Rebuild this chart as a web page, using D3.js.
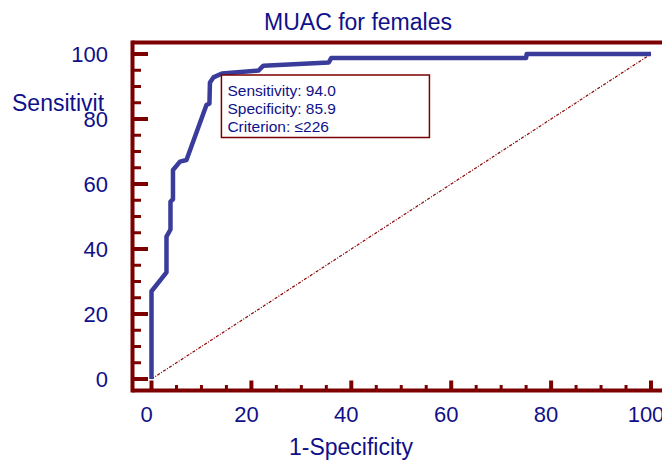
<!DOCTYPE html>
<html>
<head>
<meta charset="utf-8">
<script src="https://cdn.jsdelivr.net/npm/d3@7"></script>
<style>
  body { margin: 0; background: #fff; }
  svg { display: block; font-family: "Liberation Sans", Arial, sans-serif; }
</style>
</head>
<body>
<svg id="chart" width="662" height="464"></svg>
<script>
// ROC curve: 1-Specificity (%) and Sensitivity (%)
const oneMinusSpec = [0, 0, 3.0, 3.0, 3.8, 3.8, 4.3, 4.3, 5.7, 7.0, 11.0, 11.6, 11.7, 12.4, 14.1, 21.4, 22.4, 35.5, 36.0, 75.0, 75.1, 100];
const sensitivity  = [0, 27.0, 32.8, 43.8, 46.0, 54.6, 55.3, 64.3, 66.9, 67.4, 84.3, 84.8, 91.2, 92.8, 94.0, 94.9, 96.4, 97.4, 98.8, 98.8, 100, 100];

const xTicks = [0, 20, 40, 60, 80, 100];
const yTicks = [0, 20, 40, 60, 80, 100];

const infoLines = ["Sensitivity: 94.0", "Specificity: 85.9", "Criterion: \u2264226"];
const criterion = { fpr: 14.1, sens: 94.0 };

const title = "MUAC for females";
const xTitle = "1-Specificity";
const yTitle = "Sensitivit";

const axisColor = "#7d0000";
const textColor = "#10108a";
const curveColor = "#3a3c9c";

const svg = d3.select("#chart");

const x = d3.scaleLinear().domain([0, 100]).range([151.5, 651]);
const y = d3.scaleLinear().domain([0, 100]).range([379, 54]);

// frame: left axis, top border, bottom axis
const frameLeft = 132.5, frameTop = 42.5, frameBottom = 390.5;
svg.append("line")
  .attr("x1", frameLeft).attr("x2", frameLeft)
  .attr("y1", frameTop - 2).attr("y2", frameBottom + 2)
  .attr("stroke", axisColor).attr("stroke-width", 4);
svg.append("line")
  .attr("x1", frameLeft).attr("x2", 662)
  .attr("y1", frameTop).attr("y2", frameTop)
  .attr("stroke", axisColor).attr("stroke-width", 4);
svg.append("line")
  .attr("x1", frameLeft).attr("x2", 662)
  .attr("y1", frameBottom).attr("y2", frameBottom)
  .attr("stroke", axisColor).attr("stroke-width", 4);

// y ticks (minor every 5, major every 20), pointing inward
const yAll = d3.range(0, 101, 5);
svg.append("g").selectAll("line")
  .data(yAll)
  .enter()
  .append("line")
  .attr("x1", frameLeft)
  .attr("x2", d => d % 20 === 0 ? 148 : 141)
  .attr("y1", d => y(d)).attr("y2", d => y(d))
  .attr("stroke", axisColor)
  .attr("stroke-width", d => d % 20 === 0 ? 4 : 3);

// x ticks
const xAll = d3.range(0, 101, 5);
svg.append("g").selectAll("line")
  .data(xAll)
  .enter()
  .append("line")
  .attr("x1", d => x(d)).attr("x2", d => x(d))
  .attr("y1", frameBottom)
  .attr("y2", d => d % 20 === 0 ? 380.5 : 385)
  .attr("stroke", axisColor)
  .attr("stroke-width", d => d % 20 === 0 ? 4 : 3);

// tick labels
svg.append("g").selectAll("text")
  .data(yTicks)
  .enter()
  .append("text")
  .attr("x", 108)
  .attr("y", d => y(d))
  .attr("dy", "0.36em")
  .attr("text-anchor", "end")
  .attr("font-size", 22)
  .attr("fill", textColor)
  .text(d => d);

svg.append("g").selectAll("text")
  .data(xTicks)
  .enter()
  .append("text")
  .attr("x", d => x(d) - 5)
  .attr("y", 422)
  .attr("text-anchor", "middle")
  .attr("font-size", 22)
  .attr("fill", textColor)
  .text(d => d);

// titles
svg.append("text")
  .attr("x", 358).attr("y", 30)
  .attr("text-anchor", "middle")
  .attr("font-size", 23)
  .attr("fill", textColor)
  .text(title);

svg.append("text")
  .attr("x", 351).attr("y", 455)
  .attr("text-anchor", "middle")
  .attr("font-size", 23)
  .attr("fill", textColor)
  .text(xTitle);

svg.append("text")
  .attr("x", 12).attr("y", 111)
  .attr("font-size", 23)
  .attr("fill", textColor)
  .text(yTitle);

// reference diagonal
svg.append("line")
  .attr("x1", x(0)).attr("y1", y(0))
  .attr("x2", x(100)).attr("y2", y(100))
  .attr("stroke", "#8b0000")
  .attr("stroke-width", 1.2)
  .attr("stroke-dasharray", "3,1.5,1,1.5");

// ROC curve
const pts = oneMinusSpec.map((v, i) => [v, sensitivity[i]]);
const line = d3.line().x(d => x(d[0])).y(d => y(d[1]));
svg.append("path")
  .datum(pts)
  .attr("d", line)
  .attr("fill", "none")
  .attr("stroke", curveColor)
  .attr("stroke-width", 4.5)
  .attr("stroke-linejoin", "round");

// info box at the criterion point
const bx = x(criterion.fpr) - 0.5, by = y(criterion.sens) + 1.5;
svg.append("rect")
  .attr("x", bx).attr("y", by)
  .attr("width", 208).attr("height", 62.5)
  .attr("fill", "#fff")
  .attr("stroke", axisColor)
  .attr("stroke-width", 1.5);

svg.append("g").selectAll("text")
  .data(infoLines)
  .enter()
  .append("text")
  .attr("x", bx + 6)
  .attr("y", (d, i) => by + 21 + i * 18)
  .attr("font-size", 15.5)
  .attr("fill", textColor)
  .text(d => d);
</script>
</body>
</html>
